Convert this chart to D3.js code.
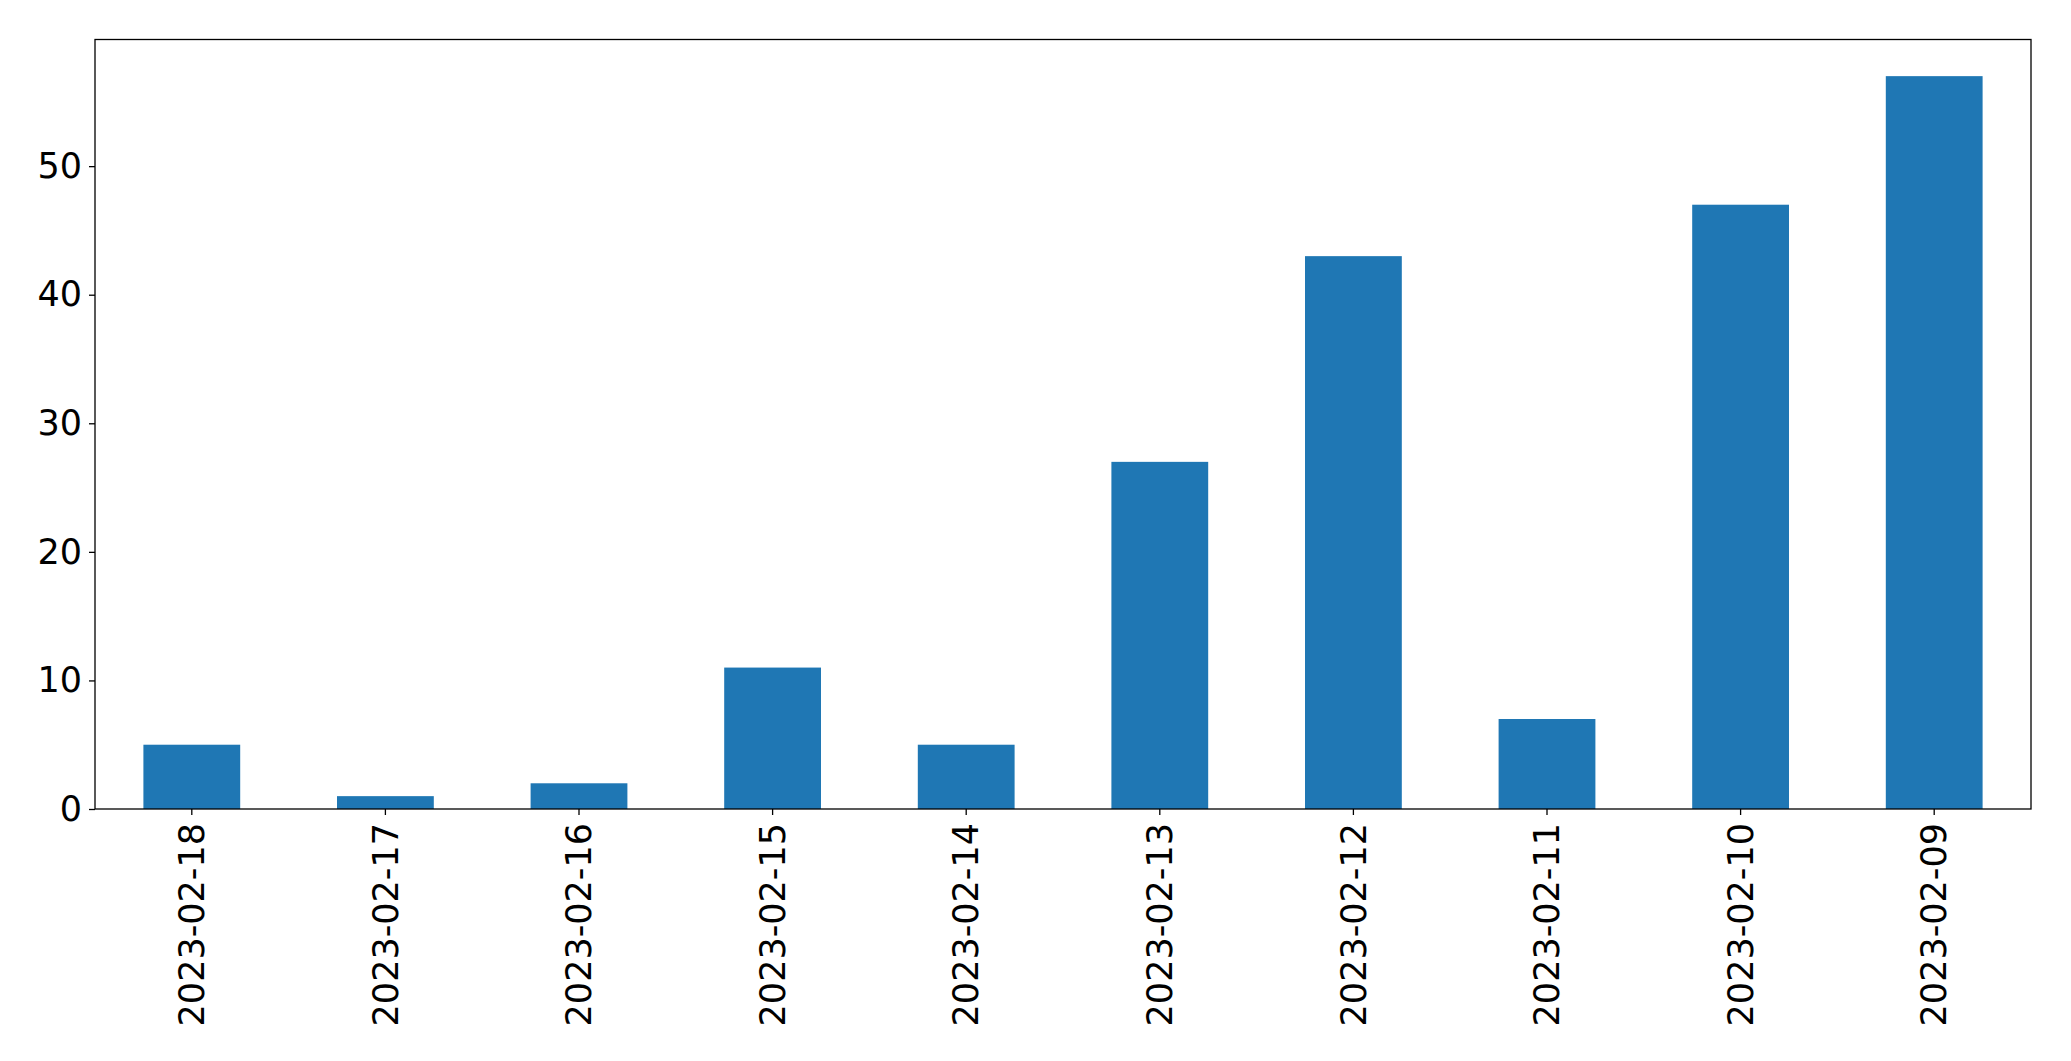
<!DOCTYPE html>
<html><head><meta charset="utf-8">
<script src="https://cdn.jsdelivr.net/npm/d3@7"></script>
<style>body{margin:0;background:#fff}svg{display:block}text{font-family:"DejaVu Sans",sans-serif}</style>
</head><body>
<script>
const categories = ["2023-02-18","2023-02-17","2023-02-16","2023-02-15","2023-02-14","2023-02-13","2023-02-12","2023-02-11","2023-02-10","2023-02-09"];
const values = [5,1,2,11,5,27,43,7,47,57];
const yTicks = [0,10,20,30,40,50];

const W=2071,H=1061;
const m={left:95,top:39.5,right:2031,bottom:809};
const svg=d3.select("body").append("svg").attr("width",W).attr("height",H);
const x=d3.scaleBand().domain(categories).range([m.left,m.right]).paddingInner(0.5).paddingOuter(0.25);
const y=d3.scaleLinear().domain([0,d3.max(values)*1.05]).range([m.bottom,m.top]);

svg.append("g").selectAll("rect").data(values).join("rect")
 .attr("x",(d,i)=>x(categories[i])).attr("width",x.bandwidth())
 .attr("y",d=>y(d)).attr("height",d=>y(0)-y(d)).attr("fill","#1f77b4");

const fs=35;
const ya=svg.append("g").attr("transform",`translate(${m.left},0)`)
 .call(d3.axisLeft(y).tickValues(yTicks).tickSize(6).tickPadding(7));
ya.select(".domain").remove();
ya.selectAll("text").attr("font-size",fs).attr("fill","#000").attr("font-family","DejaVu Sans");
ya.selectAll("line").attr("stroke","#000").attr("stroke-width",1.3);

const xa=svg.append("g").attr("transform",`translate(0,${m.bottom})`)
 .call(d3.axisBottom(x).tickSize(6).tickPadding(0));
xa.select(".domain").remove();
xa.selectAll("line").attr("stroke","#000").attr("stroke-width",1.3);
xa.selectAll("text").attr("font-size",fs).attr("fill","#000").attr("font-family","DejaVu Sans")
 .attr("text-anchor","end").attr("dy","0.35em").attr("y",0)
 .attr("transform","translate(0,14) rotate(-90)");

svg.append("rect").attr("x",m.left).attr("y",m.top).attr("width",m.right-m.left).attr("height",m.bottom-m.top)
 .attr("fill","none").attr("stroke","#000").attr("stroke-width",1.3);
</script>
</body></html>
